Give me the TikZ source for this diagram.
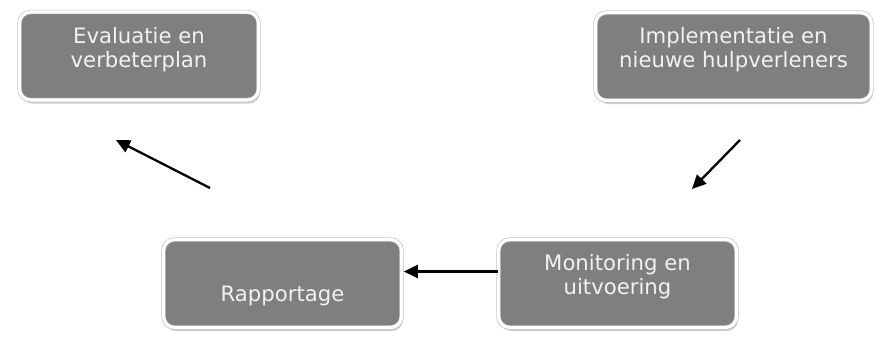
\documentclass[tikz,border=0pt]{standalone}
\usepackage{fontspec}
\setmainfont{DejaVu Sans}
\usetikzlibrary{shadows,arrows.meta}
\definecolor{stapgrijs}{RGB}{127,127,127}
\definecolor{tekstwit}{RGB}{242,242,242}
\tikzstyle{stap}=[rectangle,rounded corners=11pt,fill=stapgrijs,draw=black!25,double=white,double distance=3.2pt,line width=.6pt,text=tekstwit,align=center,font=\fontsize{21.2}{24}\selectfont,minimum height=88pt,drop shadow={shadow xshift=1.5pt,shadow yshift=-3.5pt,opacity=.4}]
\tikzstyle{twee}=[text height=44pt,text depth=22pt]
\tikzstyle{pijl}=[-{Triangle[length=14pt,width=13pt]},line width=2.3pt,black]

\begin{document}
\begin{tikzpicture}[x=1pt,y=-1pt]
\useasboundingbox (0,0) rectangle (875,338);
\node[stap,twee,minimum width=239pt] (eval) at (139,56) {Evaluatie en\\verbeterplan};
\node[stap,twee,minimum width=276pt] (impl) at (733.5,56.5) {Implementatie en\\nieuwe hulpverleners};
\node[stap,text height=40pt,text depth=5pt,minimum width=238pt] (rapp) at (282.5,283.5) {Rapportage};
\node[stap,twee,minimum width=238pt] (moni) at (617.5,283.5) {Monitoring en\\uitvoering};
\coordinate (p1) at (210,188); \coordinate (q1) at (116,140);
\coordinate (p2) at (740,140); \coordinate (q2) at (692,189);
\draw[pijl] (p1) -- (q1);
\draw[pijl] (p2) -- (q2);
\draw[pijl,shorten >=2pt] ([yshift=12pt]moni.west) -- ([yshift=12pt]rapp.east);
\end{tikzpicture}
\end{document}
